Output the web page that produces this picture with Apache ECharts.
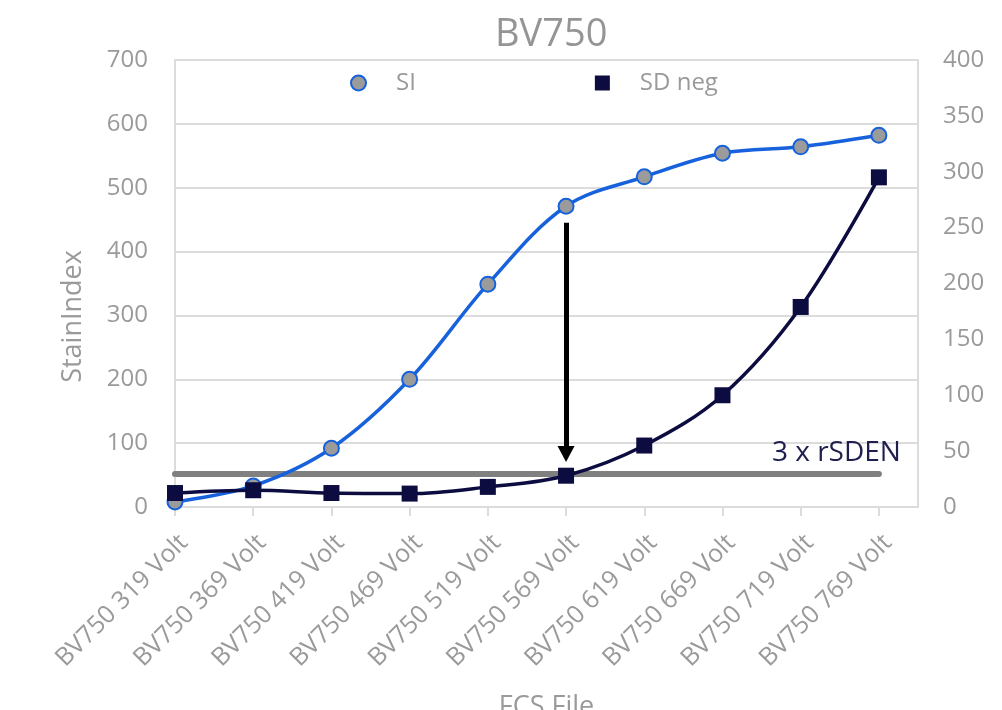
<!DOCTYPE html>
<html>
<head>
<meta charset="utf-8">
<script src="https://cdn.jsdelivr.net/npm/echarts@6/dist/echarts.min.js"></script>
<style>
  html, body { margin: 0; padding: 0; background: #ffffff; }
  #chart { width: 1002px; height: 710px; }
</style>
</head>
<body>
<div id="chart"></div>
<script>
// ---- data ----
const categories = ['BV750 319 Volt', 'BV750 369 Volt', 'BV750 419 Volt', 'BV750 469 Volt', 'BV750 519 Volt',
                    'BV750 569 Volt', 'BV750 619 Volt', 'BV750 669 Volt', 'BV750 719 Volt', 'BV750 769 Volt'];
const siValues = [8, 33, 92, 200, 349, 471, 517, 554, 564, 582];
const sdNegValues = [12.5, 15, 12.5, 12, 18, 28, 55, 100, 179, 295];
const rsdenLevel = 29.5;               // 3 x rSDEN threshold (right axis)
const arrowStart = [5, 445];           // [category index, StainIndex]
const arrowEnd = [5, 83];
const leftAxis = { min: 0, max: 700, interval: 100 };
const rightAxis = { min: 0, max: 400, interval: 50 };

// ---- build ----
const idx = categories.map((c, i) => i);
const siData = siValues.map((v, i) => [i, v]);
const sdData = sdNegValues.map((v, i) => [i, v]);
const rsdenData = categories.map((c, i) => [i, rsdenLevel]);

const FONT = '"Open Sans", "Noto Sans", sans-serif';
const GRAY = '#9a9a9a';
const GRID = '#dcdcdc';
const BLUE = '#1762dc';
const NAVY = '#0c0c40';

const chart = echarts.init(document.getElementById('chart'), null, { renderer: 'canvas' });
chart.setOption({
  animation: false,
  backgroundColor: '#ffffff',
  textStyle: { fontFamily: FONT },
  title: {
    text: 'BV750',
    left: 490, top: 11,
    textStyle: { fontFamily: FONT, fontSize: 38, fontWeight: 'normal', color: '#959595' }
  },
  legend: {
    left: 345, top: 66,
    itemWidth: 15, itemHeight: 15, itemGap: 179,
    textStyle: { fontFamily: FONT, fontSize: 24, color: GRAY, padding: [0, 0, 0, 25] },
    data: [
      { name: 'SI', icon: 'circle', itemStyle: { color: '#9b9b9b', borderColor: BLUE, borderWidth: 2 } },
      { name: 'SD neg', icon: 'rect', itemStyle: { color: NAVY } }
    ]
  },
  grid: {
    left: 175, right: 84, top: 60, bottom: 203,
    show: true, borderColor: GRID, borderWidth: 2,
    containLabel: false, outerBoundsMode: 'none'
  },
  xAxis: {
    type: 'value', min: 0, max: 9.5,
    name: 'FCS File', nameLocation: 'middle', nameGap: 187,
    nameTextStyle: { fontFamily: FONT, fontSize: 27, color: GRAY },
    axisLine: { show: true, lineStyle: { color: GRID, width: 2 } },
    axisTick: { show: true, length: 9, customValues: idx, lineStyle: { color: GRID, width: 2 } },
    axisLabel: {
      customValues: idx,
      rotate: 45, margin: 23, verticalAlign: 'top',
      fontFamily: FONT, fontSize: 25, color: GRAY,
      formatter: (v) => categories[Math.round(v)] || ''
    },
    splitLine: { show: false }
  },
  yAxis: [
    {
      type: 'value', min: leftAxis.min, max: leftAxis.max, interval: leftAxis.interval,
      name: 'StainIndex', nameLocation: 'middle', nameGap: 88,
      nameTextStyle: { fontFamily: FONT, fontSize: 27, color: GRAY, padding: [0, 66, 0, 0] },
      axisLine: { show: false }, axisTick: { show: false },
      axisLabel: { margin: 27, fontFamily: FONT, fontSize: 24, color: GRAY },
      splitLine: { show: true, lineStyle: { color: GRID, width: 2 } }
    },
    {
      type: 'value', min: rightAxis.min, max: rightAxis.max, interval: rightAxis.interval,
      position: 'right',
      axisLine: { show: false }, axisTick: { show: false },
      axisLabel: { margin: 25, fontFamily: FONT, fontSize: 24, color: GRAY },
      splitLine: { show: false }
    }
  ],
  series: [
    {
      name: '3 x rSDEN', type: 'line', yAxisIndex: 1, data: rsdenData,
      symbol: 'circle', symbolSize: 0, showSymbol: true, silent: true, z: 1,
      lineStyle: { color: '#808080', width: 6, cap: 'round' },
      itemStyle: { color: '#808080' },
      label: {
        show: true, position: 'top', align: 'right', verticalAlign: 'bottom',
        offset: [22, -2],
        fontFamily: FONT, fontSize: 28, color: '#1f1f4f',
        formatter: (p) => p.dataIndex === categories.length - 1 ? '3 x rSDEN' : ''
      }
    },
    {
      name: 'SI', type: 'line', yAxisIndex: 0, data: siData,
      smooth: 0.35, z: 2,
      symbol: 'circle', symbolSize: 15,
      lineStyle: { color: BLUE, width: 3.5 },
      itemStyle: { color: '#9b9b9b', borderColor: BLUE, borderWidth: 2 },
      markLine: {
        silent: true, z: 10,
        symbol: ['none', 'triangle'], symbolSize: [17, 16],
        label: { show: false },
        lineStyle: { color: '#000000', width: 5, type: 'solid' },
        data: [[{ coord: arrowStart }, { coord: arrowEnd }]]
      }
    },
    {
      name: 'SD neg', type: 'line', yAxisIndex: 1, data: sdData,
      smooth: 0.35, z: 3,
      symbol: 'rect', symbolSize: 16,
      lineStyle: { color: NAVY, width: 3.5 },
      itemStyle: { color: NAVY, borderColor: NAVY, borderWidth: 0 }
    }
  ]
});
</script>
</body>
</html>
